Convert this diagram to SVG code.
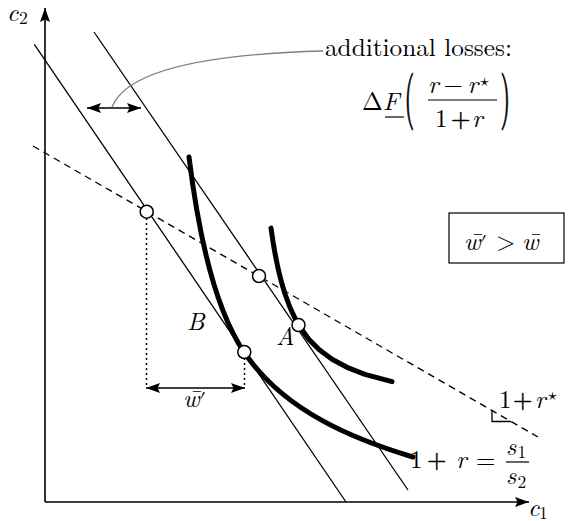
<svg xmlns="http://www.w3.org/2000/svg" width="568" height="521" viewBox="0 0 568 521">
<style>
.ax{stroke:#000;stroke-width:1.6;fill:none}
.ln{stroke:#000;stroke-width:1.3;fill:none}
.dash{stroke:#000;stroke-width:1.3;fill:none;stroke-dasharray:7 5}
.dot{stroke:#000;stroke-width:1.5;fill:none;stroke-dasharray:2 3}
.thick{stroke:#000;stroke-width:5;fill:none;stroke-linecap:round;stroke-linejoin:round}
.pt{fill:#fff;stroke:#000;stroke-width:1.5}
.bar{stroke:#000;stroke-width:1.2}
.t{font-size:25px;fill:#000}
.i{font-style:italic}
.s{font-size:17.5px;font-style:normal}
.pl{stroke:#000;stroke-width:0.5}
</style>
<defs>
<marker id="ah" viewBox="0 0 14 10" refX="14" refY="5" markerWidth="14" markerHeight="10" markerUnits="userSpaceOnUse" orient="auto-start-reverse">
<path d="M0,0 L14,5 L0,10 L2.5,5 z" fill="#000"/>
</marker>
</defs>
<rect width="568" height="521" fill="#fff"/>

<g id="axes" font-family="Latin Modern Roman, Liberation Serif, serif">
<line class="ax" x1="45" y1="502" x2="45" y2="8" marker-end="url(#ah)"/>
<line class="ax" x1="45" y1="502" x2="529" y2="502" marker-end="url(#ah)"/>
<text class="t i" x="7" y="21">c<tspan class="s" x="19" y="24">2</tspan></text>
<text class="t i" x="528" y="516">c<tspan class="s" x="539" y="519">1</tspan></text>
</g>

<g id="connectors">
<line class="ln" x1="34.3" y1="44.3" x2="346" y2="502"/>
<line class="ln" x1="94" y1="32" x2="408" y2="490"/>
<line class="dash" x1="33" y1="146" x2="538" y2="437"/>
<path class="ln" stroke-width="1" d="M492,410.5 V421.5 H511"/>
<line class="dot" x1="146.5" y1="218" x2="146.5" y2="388"/>
<line class="dot" x1="244.5" y1="358" x2="244.5" y2="388"/>
<line class="ln" x1="146" y1="388" x2="245" y2="388" marker-start="url(#ah)" marker-end="url(#ah)"/>
<line class="ln" x1="87" y1="108" x2="141" y2="108" marker-start="url(#ah)" marker-end="url(#ah)"/>
<path d="M112,107 Q132,56 323,51" fill="none" stroke="#808080" stroke-width="1.3"/>
</g>

<g id="curve-B">
<path class="thick" d="M189,157 C198,230 214,308 244,352 C284,411 353,439 413,457"/>
</g>
<g id="curve-A">
<path class="thick" d="M271,228.1 L273,241.6 L275,253.3 L278,268.2 L281,280.5 L285,294 L290,307.5 L295,318.2 L301,328.6 L309,339.4 L319,349.5 L332,359.2 L347,367.3 L365,374.3 L392,381.6"/>
</g>

<g id="points">
<circle class="pt" cx="146.7" cy="211.7" r="6.5"/>
<circle class="pt" cx="259" cy="276" r="6.5"/>
<circle class="pt" cx="298.5" cy="325" r="6.5"/>
<circle class="pt" cx="244.3" cy="352" r="6.5"/>
</g>

<g id="labels" font-family="Latin Modern Roman, Liberation Serif, serif">
<text class="t i" x="187" y="330">B</text>
<text class="t i" x="276" y="345">A</text>
<text class="t i" x="183" y="407">w&#x304;<tspan font-style="normal" font-family="Latin Modern Math, DejaVu Sans, sans-serif" font-size="20">′</tspan></text>
<text class="t" x="499" y="408">1</text>
<text class="t pl" x="513" y="408">+</text>
<text class="t i" x="535" y="408">r</text>
<text font-family="Latin Modern Math, DejaVu Sans, sans-serif" font-size="18" x="548" y="400">⋆</text>
<text class="t" x="410" y="468">1</text>
<text class="t pl" x="427" y="468">+</text>
<text class="t i" x="456" y="468">r</text>
<text class="t" x="476" y="468">=</text>
<text class="t i" x="506" y="455">s<tspan class="s" x="517.5" y="458">1</tspan></text>
<line class="bar" x1="506" y1="462" x2="529" y2="462"/>
<text class="t i" x="506" y="484">s<tspan class="s" x="517.5" y="488">2</tspan></text>
</g>

<g id="box" font-family="Latin Modern Roman, Liberation Serif, serif">
<rect x="449" y="213" width="115" height="50" fill="none" stroke="#000" stroke-width="1.2"/>
<text class="t i" x="464" y="250">w&#x304;<tspan font-style="normal" font-family="Latin Modern Math, DejaVu Sans, sans-serif" font-size="20">′</tspan></text>
<text class="t" x="496" y="250">&gt;</text>
<text class="t i" x="522" y="250">w&#x304;</text>
</g>

<g id="annotation" font-family="Latin Modern Roman, Liberation Serif, serif">
<text class="t" x="325" y="56" textLength="187" lengthAdjust="spacingAndGlyphs">additional losses:</text>
<text class="t" x="362" y="110">Δ</text>
<text class="t i" x="383" y="110">F</text>
<line class="bar" x1="385" y1="117" x2="404" y2="117"/>
<text class="t pl" transform="translate(404.5,115.5) scale(1,2.32)">(</text>
<text class="t i" x="428" y="93">r</text>
<text class="t" x="443.5" y="93">−</text>
<text class="t i" x="467.5" y="93">r</text>
<text font-family="Latin Modern Math, DejaVu Sans, sans-serif" font-size="18" x="480" y="86">⋆</text>
<line class="bar" x1="428" y1="100" x2="497" y2="100"/>
<text class="t" x="435" y="127">1</text>
<text class="t pl" x="451" y="127">+</text>
<text class="t i" x="472" y="127">r</text>
<text class="t pl" transform="translate(500.5,115.5) scale(1,2.32)">)</text>
</g>
</svg>
